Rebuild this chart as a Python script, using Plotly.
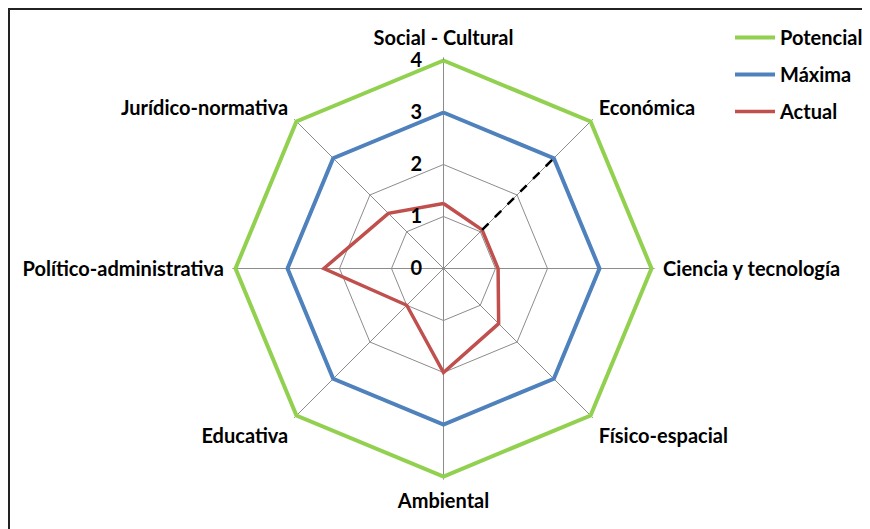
import plotly.graph_objects as go

categories = ["Social - Cultural", "Económica", "Ciencia y tecnología", "Físico-espacial",
              "Ambiental", "Educativa", "Político-administrativa", "Jurídico-normativa"]
potencial = [4, 4, 4, 4, 4, 4, 4, 4]
maxima = [3, 3, 3, 3, 3, 3, 3, 3]
actual = [1.25, 1.05, 1.05, 1.5, 2.0, 1.0, 2.3, 1.5]
gap_category = "Económica"
gap_values = [1.05, 3]
radial_ticks = [0, 1, 2, 3, 4]

FONT = "Lato"
FS = 20
W, H = 870, 529
OFF = 8  # page body margin
CX, CY = 443.5 - OFF, 268.5 - OFF
RMAX = 4.06
R = 208 * RMAX / 4

def closed(v):
    return list(v) + [v[0]]

fig = go.Figure()
fig.add_trace(go.Scatterpolar(r=closed(potencial), theta=closed(categories), mode="lines",
                              name="Potencial", line=dict(color="#92D050", width=4),
                              legendgroup="a", cliponaxis=False))
fig.add_trace(go.Scatterpolar(r=closed(maxima), theta=closed(categories), mode="lines",
                              name="Máxima", line=dict(color="#4F81BD", width=4),
                              legendgroup="b", cliponaxis=False))
fig.add_trace(go.Scatterpolar(r=closed(actual), theta=closed(categories), mode="lines",
                              name="Actual", line=dict(color="#C0504D", width=3.5),
                              legendgroup="c", cliponaxis=False))
fig.add_trace(go.Scatterpolar(r=gap_values, theta=[gap_category, gap_category], mode="lines",
                              showlegend=False, cliponaxis=False,
                              line=dict(color="black", width=2.5, dash="dash")))

tf = dict(family=FONT, size=FS, color="black", weight="bold")

fig.update_layout(
    width=W, height=H,
    margin=dict(l=0, r=0, t=0, b=0, autoexpand=False),
    paper_bgcolor="white", plot_bgcolor="white",
    font=tf,
    polar=dict(
        domain=dict(x=[(CX - R) / W, (CX + R) / W],
                    y=[(H - (CY + R)) / H, (H - (CY - R)) / H]),
        bgcolor="white",
        gridshape="linear",
        radialaxis=dict(range=[0, RMAX], tickvals=radial_ticks, angle=90, side="counterclockwise",
                        tickangle=90, showline=False, gridcolor="#8c8c8c", gridwidth=1,
                        ticks="outside", ticklen=14, tickcolor="rgba(0,0,0,0)",
                        tickfont=tf),
        angularaxis=dict(direction="clockwise", rotation=90, categoryorder="array",
                         categoryarray=categories, showline=False, gridcolor="#8c8c8c",
                         gridwidth=1, ticks="outside", ticklen=4,
                         tickcolor="rgba(0,0,0,0)", tickfont=tf),
    ),
    legend=dict(x=722 / W, y=1 - 10 / H, xanchor="left", yanchor="top",
                tracegroupgap=8, traceorder="grouped", font=tf, itemwidth=40,
                bgcolor="rgba(0,0,0,0)"),
    shapes=[dict(type="rect", xref="paper", yref="paper",
                 x0=1 / W, x1=1.05, y0=-0.05, y1=1 - 1 / H,
                 line=dict(color="#222222", width=2))],
)

fig.write_html("out.html")
